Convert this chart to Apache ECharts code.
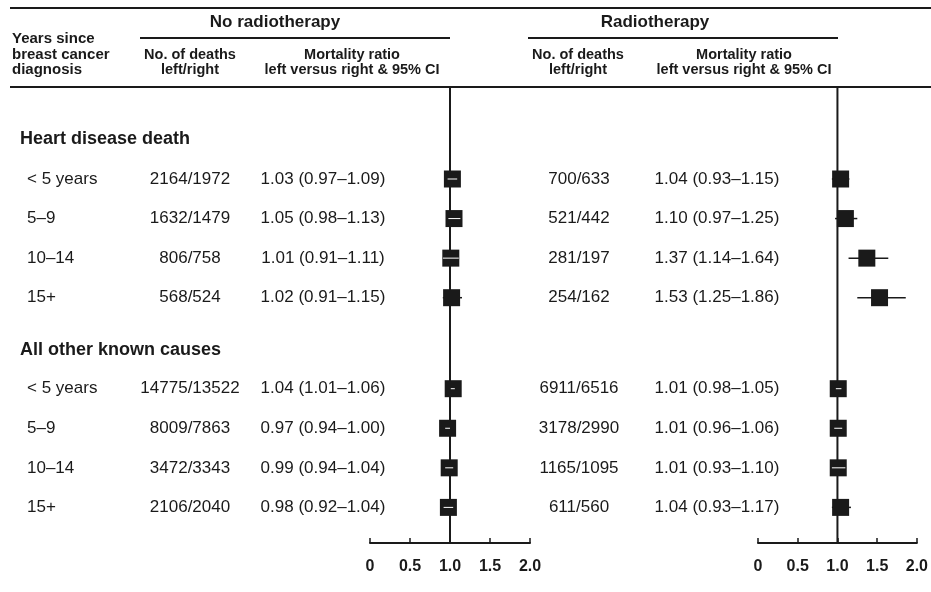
<!DOCTYPE html>
<html><head><meta charset="utf-8">
<script src="https://cdn.jsdelivr.net/npm/echarts@6/dist/echarts.min.js"></script>
<style>html,body{margin:0;padding:0;background:#fff}#c{width:931px;height:592px}</style>
</head><body><div id="c"></div>
<script>
// ---- data ----
const sections = ['Heart disease death', 'All other known causes'];
const rowLabels = ['< 5 years', '5–9', '10–14', '15+', '< 5 years', '5–9', '10–14', '15+'];
const noRtDeaths = ['2164/1972', '1632/1479', '806/758', '568/524', '14775/13522', '8009/7863', '3472/3343', '2106/2040'];
const noRtMR = [1.03, 1.05, 1.01, 1.02, 1.04, 0.97, 0.99, 0.98];
const noRtLo = [0.97, 0.98, 0.91, 0.91, 1.01, 0.94, 0.94, 0.92];
const noRtHi = [1.09, 1.13, 1.11, 1.15, 1.06, 1.00, 1.04, 1.04];
const rtDeaths = ['700/633', '521/442', '281/197', '254/162', '6911/6516', '3178/2990', '1165/1095', '611/560'];
const rtMR = [1.04, 1.10, 1.37, 1.53, 1.01, 1.01, 1.01, 1.04];
const rtLo = [0.93, 0.97, 1.14, 1.25, 0.98, 0.96, 0.93, 0.93];
const rtHi = [1.15, 1.25, 1.64, 1.86, 1.05, 1.06, 1.10, 1.17];
const xTicks = [0, 0.5, 1.0, 1.5, 2.0];

// ---- layout ----
const rowPos = [1, 2, 3, 4, 6.3, 7.3, 8.3, 9.3];
const sectionPos = [0, 5.33];
const Y_MIN = -1.3, Y_MAX = 10.2;
const FONT = '"Liberation Sans", Arial, Helvetica, sans-serif';
const INK = '#1a1a1a';

const chart = echarts.init(document.getElementById('c'), null, {renderer: 'canvas'});

function forestData(mr, lo, hi) {
  return mr.map((v, i) => [v, lo[i], hi[i], rowPos[i]]);
}
function renderItem(params, api) {
  const est = api.value(0), lo = api.value(1), hi = api.value(2), pos = api.value(3);
  const c = api.coord([est, pos]), l = api.coord([lo, pos]), h = api.coord([hi, pos]);
  const half = 8.5;
  const children = [
    {type: 'line', shape: {x1: l[0], y1: c[1], x2: h[0], y2: c[1]}, style: {stroke: INK, lineWidth: 1.5}},
    {type: 'rect', shape: {x: c[0] - half, y: c[1] - half, width: 2 * half, height: 2 * half}, style: {fill: INK}}
  ];
  if (l[0] >= c[0] - half && h[0] <= c[0] + half) {
    children.push({type: 'line', shape: {x1: l[0], y1: c[1], x2: h[0], y2: c[1]}, style: {stroke: '#fff', lineWidth: 1}});
  }
  return {type: 'group', children};
}
function xAxis(gi) {
  return {
    type: 'value', gridIndex: gi, min: xTicks[0], max: xTicks[xTicks.length - 1], interval: 0.5,
    position: 'bottom',
    axisLine: {show: true, onZero: false, lineStyle: {color: INK, width: 2}},
    axisTick: {show: true, inside: true, length: 5, lineStyle: {color: INK, width: 1.5}},
    splitLine: {show: false},
    axisLabel: {color: INK, fontFamily: FONT, fontWeight: 'bold', fontSize: 16, margin: 16,
      formatter: v => (v === 0 ? '0' : v.toFixed(1))}
  };
}
function yAxis(gi) {
  return {type: 'value', gridIndex: gi, inverse: true, min: Y_MIN, max: Y_MAX, show: false};
}
function refLine(gi) {
  return {type: 'line', xAxisIndex: gi, yAxisIndex: gi, data: [[1, Y_MIN], [1, Y_MAX]],
    showSymbol: false, silent: true, z: 1, lineStyle: {color: INK, width: 2}, animation: false};
}

chart.setOption({
  animation: false,
  grid: [
    {left: 370, width: 160, top: 88, height: 455},
    {left: 758, width: 160, top: 88, height: 455}
  ],
  xAxis: [xAxis(0), xAxis(1)],
  yAxis: [yAxis(0), yAxis(1)],
  series: [
    refLine(0), refLine(1),
    {type: 'custom', xAxisIndex: 0, yAxisIndex: 0, z: 3, renderItem, data: forestData(noRtMR, noRtLo, noRtHi)},
    {type: 'custom', xAxisIndex: 1, yAxisIndex: 1, z: 3, renderItem, data: forestData(rtMR, rtLo, rtHi)}
  ]
});

// ---- text & rules ----
const g = [];
function txt(x, y, s, size, bold, align) {
  g.push({type: 'text', x, y, z: 10, style: {text: s, fill: INK, fontFamily: FONT, fontSize: size,
    fontWeight: bold ? 'bold' : 'normal', textAlign: align || 'left', align: align || 'left',
    textVerticalAlign: 'middle', verticalAlign: 'middle'}});
}
function rule(x1, y, x2, w) {
  g.push({type: 'line', z: 10, shape: {x1, y1: y, x2, y2: y}, style: {stroke: INK, lineWidth: w}});
}
rule(10, 8, 931, 2);
rule(10, 87, 931, 2);
rule(140, 38, 450, 2);
rule(528, 38, 838, 2);

txt(12, 39, 'Years since', 15, true);
txt(12, 55, 'breast cancer', 15, true);
txt(12, 70, 'diagnosis', 15, true);
txt(275, 22, 'No radiotherapy', 17, true, 'center');
txt(655, 22, 'Radiotherapy', 17, true, 'center');
txt(190, 55, 'No. of deaths', 14.5, true, 'center');
txt(190, 70, 'left/right', 14.5, true, 'center');
txt(352, 55, 'Mortality ratio', 14.5, true, 'center');
txt(352, 70, 'left versus right & 95% CI', 14.5, true, 'center');
txt(578, 55, 'No. of deaths', 14.5, true, 'center');
txt(578, 70, 'left/right', 14.5, true, 'center');
txt(744, 55, 'Mortality ratio', 14.5, true, 'center');
txt(744, 70, 'left versus right & 95% CI', 14.5, true, 'center');

const py = p => chart.convertToPixel({yAxisIndex: 0}, p);
const fmt = (m, l, h) => m.toFixed(2) + ' (' + l.toFixed(2) + '–' + h.toFixed(2) + ')';
sections.forEach((s, i) => txt(20, py(sectionPos[i]), s, 18, true));
rowLabels.forEach((s, i) => {
  const y = py(rowPos[i]);
  txt(27, y, s, 17, false);
  txt(190, y, noRtDeaths[i], 17, false, 'center');
  txt(323, y, fmt(noRtMR[i], noRtLo[i], noRtHi[i]), 17, false, 'center');
  txt(579, y, rtDeaths[i], 17, false, 'center');
  txt(717, y, fmt(rtMR[i], rtLo[i], rtHi[i]), 17, false, 'center');
});
chart.setOption({graphic: {elements: g}});
</script></body></html>
